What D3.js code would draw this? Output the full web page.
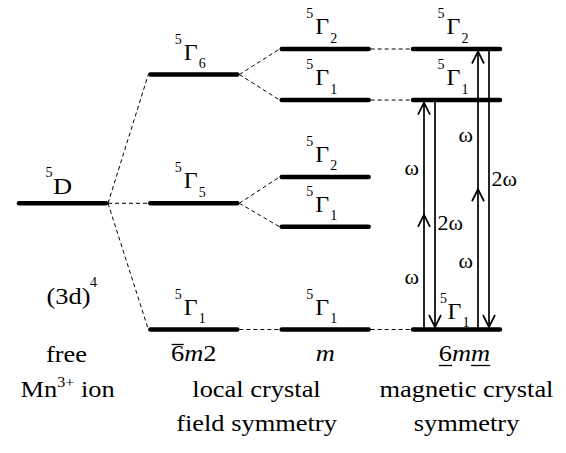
<!DOCTYPE html>
<html><head><meta charset="utf-8">
<script src="https://cdn.jsdelivr.net/npm/d3@7"></script>
<style>
body{margin:0;background:#fff}
svg{display:block}
text{font-family:"Liberation Serif","Times New Roman",serif;fill:#000}
</style>
</head><body>
<svg id="c" width="566" height="453"></svg>
<script>
// ---- data ----
const columns = ["free ion", "local", "m", "magnetic"];
const levelColumn = [0, 1, 1, 1, 2, 2, 2, 2, 2, 3, 3, 3];
const levelEnergy = [4.5, 9.09, 4.5, 0, 10, 8.18, 5.44, 3.66, 0, 10, 8.18, 0];
const levelTerm   = ["D", "Γ", "Γ", "Γ", "Γ", "Γ", "Γ", "Γ", "Γ", "Γ", "Γ", "Γ"];
const levelIndex  = ["", "6", "5", "1", "2", "1", "2", "1", "1", "2", "1", "1"];
const levelSpin   = ["5", "5", "5", "5", "5", "5", "5", "5", "5", "5", "5", "5"];
const links = [[0,1],[0,2],[0,3],[1,4],[1,5],[2,6],[2,7],[3,8],[4,9],[5,10],[8,11]];
const transFrom    = [0, 8.18, 0, 10];
const transTo      = [8.18, 0, 10, 0];
const transPhotons = [2, 1, 2, 1];
const transLabel   = ["ω", "2ω", "ω", "2ω"];
const symmetryLabels = [["6","m","2"], ["m"], ["6","m","m"]];
const captionLines = [["local crystal", "field symmetry"], ["magnetic crystal", "symmetry"]];

// ---- layout ----
const svg = d3.select("#c");
const x = d3.scalePoint().domain(columns).range([62.5, 456.5]);
const y = d3.scaleLinear().domain([0, 10]).range([329.5, 49]);
const half = 45.5;
const SX = 1.15; // horizontal stretch of roman text
const FS = 23;

function latin(parent, str, cx, cy, size, anchor, italic) {
  const g = parent.append("g").attr("transform", `translate(${cx},${cy}) scale(${SX},1)`);
  const t = g.append("text").attr("text-anchor", anchor || "middle").attr("font-size", size).text(str);
  if (italic) t.attr("font-style", "italic");
  return g;
}
function plain(parent, str, px, py, size, anchor) {
  return parent.append("text").attr("x", px).attr("y", py).attr("text-anchor", anchor || "start")
    .attr("font-size", size).text(str);
}

// dashed connectors
svg.append("g").selectAll("line").data(links).join("line")
  .attr("x1", d => x(columns[levelColumn[d[0]]]) + half)
  .attr("y1", d => y(levelEnergy[d[0]]))
  .attr("x2", d => x(columns[levelColumn[d[1]]]) - half)
  .attr("y2", d => y(levelEnergy[d[1]]))
  .attr("stroke", "#000").attr("stroke-width", 1).attr("stroke-dasharray", "4,3");

// levels
const idx = d3.range(levelEnergy.length);
svg.append("g").selectAll("line").data(idx).join("line")
  .attr("x1", i => x(columns[levelColumn[i]]) - half + 2)
  .attr("x2", i => x(columns[levelColumn[i]]) + half - 2)
  .attr("y1", i => y(levelEnergy[i])).attr("y2", i => y(levelEnergy[i]))
  .attr("stroke", "#000").attr("stroke-width", 4.5).attr("stroke-linecap", "round");

// level labels
const lab = svg.append("g");
idx.forEach(i => {
  const cx = x(columns[levelColumn[i]]);
  const ly = y(levelEnergy[i]);
  if (levelTerm[i] === "D") {
    plain(lab, levelSpin[i], cx - 17, ly - 26, 14);
    latin(lab, levelTerm[i], cx - 9.5, ly - 9.5, 23, "start");
  } else {
    const low = levelColumn[i] === 3 && levelEnergy[i] === 0;
    const ox = low ? 2.5 : 0, oy = low ? 4 : 0, og = low ? -1.5 : 0;
    plain(lab, levelSpin[i], cx - 19 + ox, ly - 31 + oy, 14);
    plain(lab, levelTerm[i], cx - 10 + ox + og, ly - 15 + oy, 24);
    plain(lab, levelIndex[i], cx + 5 + ox + og, ly - 6.5 + oy, 14);
  }
});

// transitions
const tg = svg.append("g");
const left = x(columns[3]) - half;
const arrowOffsets = [13, 24, 67, 78];
const labelAt = [[0.2, 0.675], [0.565], [0.22, 0.67], [0.49]];
function head(px, tipY, dir) { // dir -1 = pointing up
  tg.append("polyline")
    .attr("points", `${px-6},${tipY - dir*12} ${px},${tipY} ${px+6},${tipY - dir*12}`)
    .attr("fill", "none").attr("stroke", "#000").attr("stroke-width", 1.7);
}
transFrom.forEach((f, k) => {
  const px = left + arrowOffsets[k];
  const y0 = y(f), y1 = y(transTo[k]);
  const dir = y1 < y0 ? -1 : 1;
  const tip = y1 - dir * 2.5;
  tg.append("line").attr("x1", px).attr("x2", px).attr("y1", y0).attr("y2", tip)
    .attr("stroke", "#000").attr("stroke-width", 1.7);
  head(px, tip, dir);
  if (transPhotons[k] === 2) {
    head(px, (y0 + y1) / 2, dir);
    labelAt[k].forEach(t => plain(tg, transLabel[k], px - 5, y0 + (y1 - y0) * t, 22, "end"));
  } else {
    labelAt[k].forEach(t => plain(tg, transLabel[k], px + 2.5, y0 + (y1 - y0) * t, 22, "start"));
  }
});

// bottom labels
const bl = svg.append("g");
const c0 = x(columns[0]);
latin(bl, "(3d)", c0 + 6, 304, FS, "middle");
plain(bl, "4", c0 + 27.5, 287, 14);
latin(bl, "free", c0 + 4, 362, FS, "middle");
{
  const g = bl.append("g").attr("transform", `translate(${c0 - 42},397) scale(${SX},1)`);
  const t = g.append("text").attr("font-size", FS);
  t.append("tspan").text("Mn");
  t.append("tspan").attr("font-size", 14).attr("dy", -10).text("3+");
  t.append("tspan").attr("dy", 10).text(" ion");
}

// symmetry group labels
symmetryLabels.forEach((parts, k) => {
  const cx = x(columns[k + 1]) + (k === 2 ? 8 : 0);
  const g = bl.append("g").attr("transform", `translate(${cx},361) scale(${SX},1)`);
  const t = g.append("text").attr("text-anchor", "middle").attr("font-size", FS);
  parts.forEach(p => t.append("tspan").attr("font-style", p === "m" ? "italic" : "normal").text(p));
  const node = t.node();
  const ext = i => node.getExtentOfChar(i);
  if (k === 0) {
    const e = ext(0);
    g.append("line").attr("x1", e.x + 0.5).attr("x2", e.x + e.width - 0.5)
      .attr("y1", -16.5).attr("y2", -16.5).attr("stroke", "#000").attr("stroke-width", 1.3);
  }
  if (k === 2) {
    [0, 2].forEach(i => {
      const e = ext(i);
      g.append("line").attr("x1", e.x).attr("x2", e.x + e.width)
        .attr("y1", 4.5).attr("y2", 4.5).attr("stroke", "#000").attr("stroke-width", 1.3);
    });
  }
});

// captions
const capCenters = [(x(columns[1]) + x(columns[2])) / 2 - 3, x(columns[3]) + 10];
captionLines.forEach((lines, k) => {
  lines.forEach((s, j) => latin(bl, s, capCenters[k], 397 + j * 34, FS, "middle"));
});
</script>
</body></html>
